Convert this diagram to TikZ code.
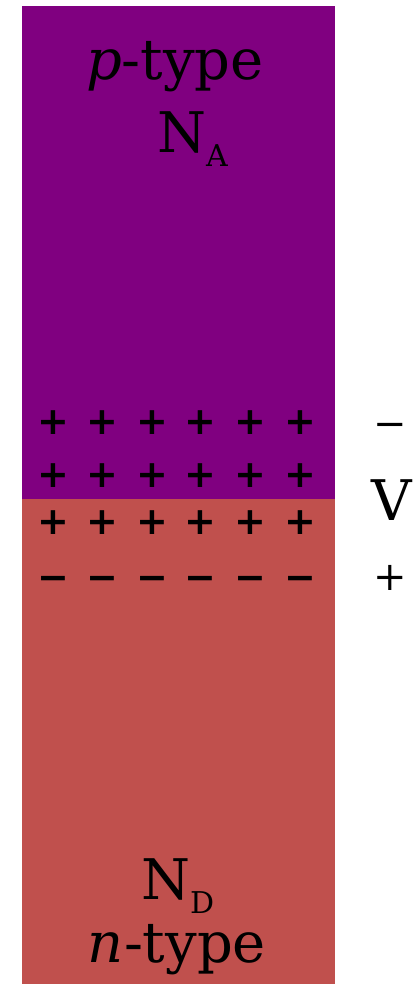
\documentclass[tikz,border=0pt]{standalone}
\usepackage{fontspec}
\setmainfont{DejaVu Serif}
\newfontfamily\signfont{DejaVu Sans}
\definecolor{ptype}{HTML}{800080}
\definecolor{ntype}{HTML}{C0504D}
\newcommand{\subtxt}[1]{\raisebox{-14pt}{\fontsize{30}{32}\selectfont #1}}
\begin{document}
\begin{tikzpicture}[x=1pt,y=-1pt,
  txt/.style={inner sep=0pt, font=\fontsize{56}{60}\selectfont},
  chg/.style={inner sep=0pt, font=\signfont\bfseries\fontsize{38}{42}\selectfont},
  volt/.style={inner sep=0pt, font=\fontsize{40}{44}\selectfont}]
\useasboundingbox (0,0) rectangle (416,984);
\fill[ptype] (22,6) rectangle (335,499);
\fill[ntype] (22,499) rectangle (335,984);
% labels
\node[txt, anchor=base] (pt) at (175,80) {\textit{p}-type};
\node[txt, anchor=base west] (na) at (157,153) {N\subtxt{A}};
\node[txt, anchor=base west] (nd) at (141,899) {N\subtxt{D}};
\node[txt, anchor=base] (nt) at (177,962) {\textit{n}-type};
% charges
\foreach \x [count=\i] in {53,102,152,200,250,300} {
  \node[chg, anchor=base] (pa\i) at (\x,434) {+};
  \node[chg, anchor=base] (pb\i) at (\x,487) {+};
  \node[chg, anchor=base] (pc\i) at (\x,534) {+};
  \node[chg, anchor=base] (pd\i) at (\x,590) {−};
}
% voltage
\node[volt, anchor=base] (vm) at (390,437) {−};
\node[txt, anchor=base] (v) at (392,520) {V};
\node[volt, anchor=base] (vp) at (390,590) {+};
\end{tikzpicture}
\end{document}
